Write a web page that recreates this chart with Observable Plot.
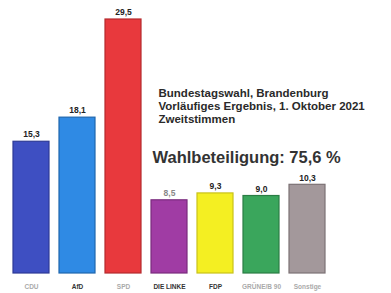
<!DOCTYPE html>
<html><head><meta charset="utf-8">
<script src="https://cdn.jsdelivr.net/npm/d3@7"></script>
<script src="https://cdn.jsdelivr.net/npm/@observablehq/plot@0.6"></script>
<style>body{margin:0;background:#fff;overflow:hidden}</style>
</head><body><div id="chart"></div>
<script>
const parties = ["CDU", "AfD", "SPD", "DIE LINKE", "FDP", "GRÜNE/B 90", "Sonstige"];
const values = [15.3, 18.1, 29.5, 8.5, 9.3, 9.0, 10.3];
const valueLabels = ["15,3", "18,1", "29,5", "8,5", "9,3", "9,0", "10,3"];
const barColors = ["#3e4fc2", "#2f8ae4", "#e8393d", "#a03ca4", "#f4ef22", "#3aa65c", "#a3989b"];
const strokeColors = ["#2d3a96", "#1f66ad", "#b52a2e", "#7a2b7e", "#c9c21a", "#2a7d44", "#7c7275"];
const tickColors = ["#aaa", "#333", "#aaa", "#333", "#333", "#aaa", "#aaa"];
const valueColors = ["#222", "#222", "#222", "#888", "#222", "#222", "#222"];
const titleLines = ["Bundestagswahl, Brandenburg", "Vorläufiges Ergebnis, 1. Oktober 2021", "Zweitstimmen"];
const turnout = "Wahlbeteiligung: 75,6 %";

const data = parties.map((p, i) => ({party: p, value: values[i], label: valueLabels[i], fill: barColors[i], stroke: strokeColors[i], tick: tickColors[i], vcol: valueColors[i]}));

const titleMarks = titleLines.map((t, i) =>
  Plot.text([t], {text: d => d, frameAnchor: "top-left", textAnchor: "start", dx: 145, dy: 74 + i * 13, lineAnchor: "middle", fontSize: 11.5, fontWeight: "bold", fill: "#2a2a2a"})
);

const chart = Plot.plot({
  width: 391, height: 293,
  marginLeft: 13, marginRight: 66, marginTop: 19, marginBottom: 20,
  style: {fontFamily: "Liberation Sans, Arial, sans-serif", background: "#fff", overflow: "visible"},
  x: {domain: parties, paddingInner: 0.22, paddingOuter: 0, axis: null},
  y: {domain: [0, 29.5], axis: null},
  marks: [
    Plot.barY(data, {x: "party", y: "value", fill: d => d.fill, stroke: d => d.stroke, strokeWidth: 1.2}),
    Plot.text(data, {x: "party", y: "value", text: "label", dy: -7, fill: d => d.vcol, fontSize: 8.5, fontWeight: "bold"}),
    Plot.text(data, {x: "party", y: 0, text: "party", dy: 13, fill: d => d.tick, fontSize: 6.5, fontWeight: "bold"}),
    ...titleMarks,
    Plot.text([turnout], {text: d => d, frameAnchor: "top-left", textAnchor: "start", dx: 139, dy: 138, lineAnchor: "middle", fontSize: 16.5, fontWeight: "bold", fill: "#333", letterSpacing: "0.3px"})
  ]
});
document.getElementById("chart").appendChild(chart);
</script></body></html>
